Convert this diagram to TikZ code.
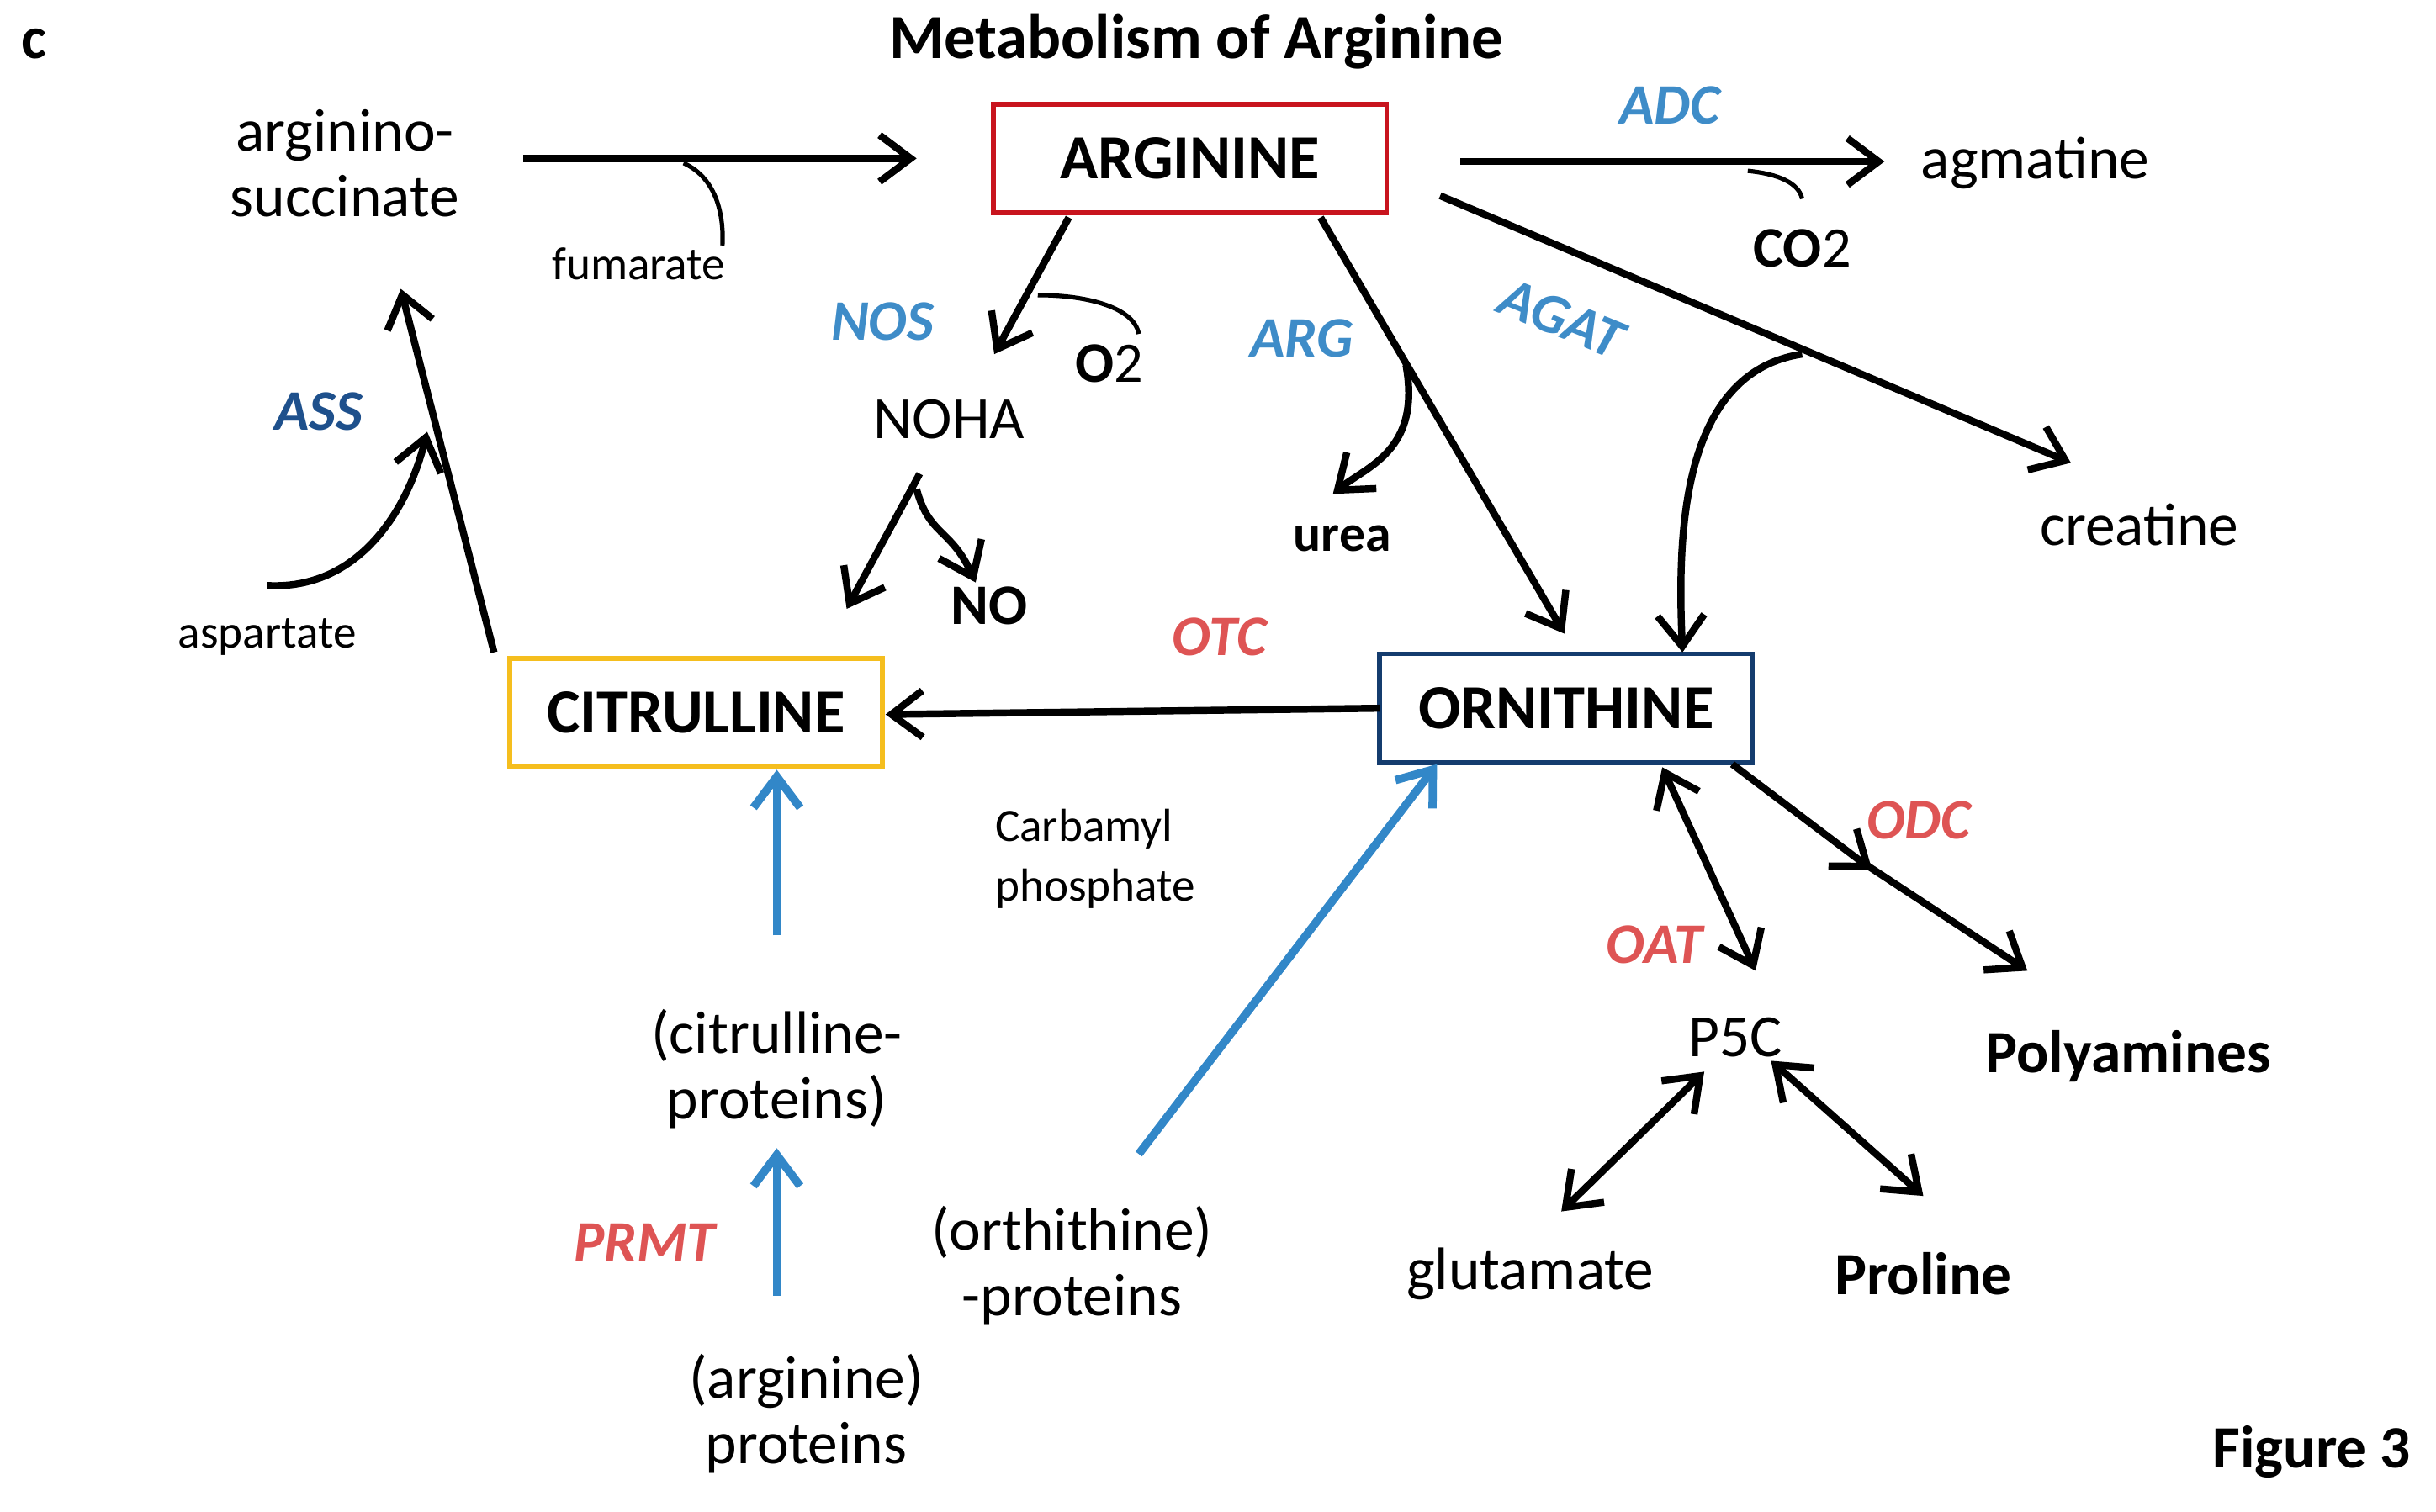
\documentclass[tikz,border=0pt]{standalone}
\usepackage{fontspec}
\setmainfont{Carlito}
\usetikzlibrary{arrows.meta}
\definecolor{enzblue}{RGB}{62,140,200}
\definecolor{enzdark}{RGB}{30,80,140}
\definecolor{enzred}{RGB}{222,84,84}
\definecolor{boxred}{RGB}{200,20,30}
\definecolor{boxblue}{RGB}{20,60,110}
\definecolor{boxyellow}{RGB}{245,190,30}
\definecolor{protblue}{RGB}{50,135,200}
\tikzset{
	met/.style={font=\fontsize{11}{13}\selectfont, align=center},
	small/.style={font=\fontsize{8.5}{11}\selectfont, align=center},
	bold/.style={font=\fontsize{10.5}{13}\selectfont\bfseries},
	box/.style={draw, line width=0.9pt, font=\fontsize{11.5}{13}\selectfont\bfseries, minimum height=0.7cm, minimum width=2.4cm},
	enz/.style={font=\fontsize{10.5}{13}\selectfont\bfseries\itshape},
	rxn/.style={line width=1.3pt, -{Straight Barb[length=2mm,width=3mm]}},
	side/.style={line width=0.8pt},
	prot/.style={protblue, line width=1.5pt, -{Straight Barb[length=2mm,width=3mm]}}
}
\begin{document}
\begin{tikzpicture}[x=0.01cm,y=-0.01cm]
	\useasboundingbox (0,0) rectangle (1568,973);
	% titles
	\node[font=\fontsize{11}{13}\selectfont\bfseries] (c) at (22,28) {c};
	\node[font=\fontsize{11.5}{13}\selectfont\bfseries] (title) at (770,27) {Metabolism of Arginine};
	\node[font=\fontsize{11}{13}\selectfont\bfseries] (fig) at (1488,935) {Figure 3};
	% boxes
	\node[box, draw=boxred, minimum width=2.53cm] (arg) at (766,102) {ARGININE};
	\node[box, draw=boxblue] (orn) at (1008,456) {ORNITHINE};
	\node[box, draw=boxyellow] (cit) at (448,459) {CITRULLINE};
	% metabolites
	\node[met] (asuc) at (222,105) {arginino-\\[-1pt]succinate};
	\node[met] (agm) at (1310,105) {agmatine};
	\node[met] (noha) at (611,270) {NOHA};
	\node[met] (crea) at (1377,338) {creatine};
	\node[met] (p5c) at (1117,668) {P5C};
	\node[met] (glu) at (985,820) {glutamate};
	\node[bold, font=\fontsize{11}{13}\selectfont\bfseries] (poly) at (1370,680) {Polyamines};
	\node[bold, font=\fontsize{11}{13}\selectfont\bfseries] (pro) at (1238,820) {Proline};
	\node[met] (citp) at (500,688) {(citrulline-\\[-1pt]proteins)};
	\node[met] (argp) at (519,910) {(arginine)\\[-1pt]proteins};
	\node[met] (ornp) at (690,815) {(orthithine)\\[-1pt]-proteins};
	% side products
	\node[small] (fum) at (411,170) {fumarate};
	\node[bold] (co2) at (1160,160) {CO\textmd{2}};
	\node[bold] (o2) at (714,234) {O\textmd{2}};
	\node[bold] (no) at (637,390) {NO};
	\node[bold, font=\fontsize{9.5}{11}\selectfont\bfseries] (urea) at (864,347) {urea};
	\node[small] (asp) at (172,410) {aspartate};
	\node[small, align=left] (carb) at (705,553) {Carbamyl\\phosphate};
	% enzymes
	\node[enz, enzblue] (adc) at (1075,68) {ADC};
	\node[enz, enzblue] (nos) at (568,207) {NOS};
	\node[enz, enzblue] (argase) at (838,218) {ARG};
	\node[enz, enzblue, rotate=-22] (agat) at (1005,205) {AGAT};
	\node[enz, enzdark] (ass) at (205,265) {ASS};
	\node[enz, enzred] (otc) at (785,410) {OTC};
	\node[enz, enzred] (prmt) at (415,800) {PRMT};
	\node[enz, enzred] (oat) at (1065,608) {OAT};
	\node[enz, enzred] (odc) at (1235,528) {ODC};
	% free ends
	\coordinate (a1) at (337,102); \coordinate (a2) at (590,102);
	\coordinate (b1) at (940,104); \coordinate (b2) at (1213,104);
	\coordinate (n1) at (688,140); \coordinate (n2) at (640,228);
	\coordinate (h1) at (592,305); \coordinate (h2) at (545,392);
	\coordinate (r1) at (850,140); \coordinate (r2) at (1007,408);
	\coordinate (g1) at (927,126); \coordinate (g2) at (1333,298);
	\coordinate (s1) at (318,420); \coordinate (s2) at (258,186);
	\coordinate (o1) at (888,456); \coordinate (o2) at (570,460);
	% main reactions
	\draw[rxn] (a1) -- (a2);
	\draw[rxn] (b1) -- (b2);
	\draw[rxn] (n1) -- (n2);
	\draw[rxn] (h1) -- (h2);
	\draw[rxn] (r1) -- (r2);
	\draw[rxn] (g1) -- (g2);
	\draw[rxn] (s1) -- (s2);
	\draw[rxn] (o1) -- (o2);
	% side branches
	\draw[side] (440,105) .. controls (462,115) and (466,140) .. (465,158);
	\draw[side] (1125,110) .. controls (1145,112) and (1158,118) .. (1160,128);
	\draw[side] (668,190) .. controls (700,190) and (730,198) .. (733,215);
	\draw[rxn] (590,315) .. controls (598,345) and (612,340) .. (628,375);
	\draw[rxn] (905,235) .. controls (915,290) and (880,300) .. (858,318);
	\draw[rxn] (1160,228) .. controls (1080,240) and (1080,350) .. (1083,420);
	\draw[rxn] (172,377) .. controls (230,380) and (262,330) .. (275,278);
	% ornithine fates
	\draw[rxn] (1115,492) -- (1205,560);
	\draw[rxn] (1200,556) -- (1305,625);
	\draw[rxn, {Straight Barb[length=2mm,width=3mm]}-{Straight Barb[length=2mm,width=3mm]}] (1070,494) -- (1130,625);
	\draw[rxn, {Straight Barb[length=2mm,width=3mm]}-{Straight Barb[length=2mm,width=3mm]}] (1097,690) -- (1005,780);
	\draw[rxn, {Straight Barb[length=2mm,width=3mm]}-{Straight Barb[length=2mm,width=3mm]}] (1140,683) -- (1238,770);
	% proteins
	\draw[prot] (citp.north) ++(0,-35) -- (cit.south -| citp.north);
	\draw[prot] (argp.north) ++(-19,-25) -- ++(0,-95);
	\draw[prot] (733,743) -- (925,492);
\end{tikzpicture}
\end{document}
